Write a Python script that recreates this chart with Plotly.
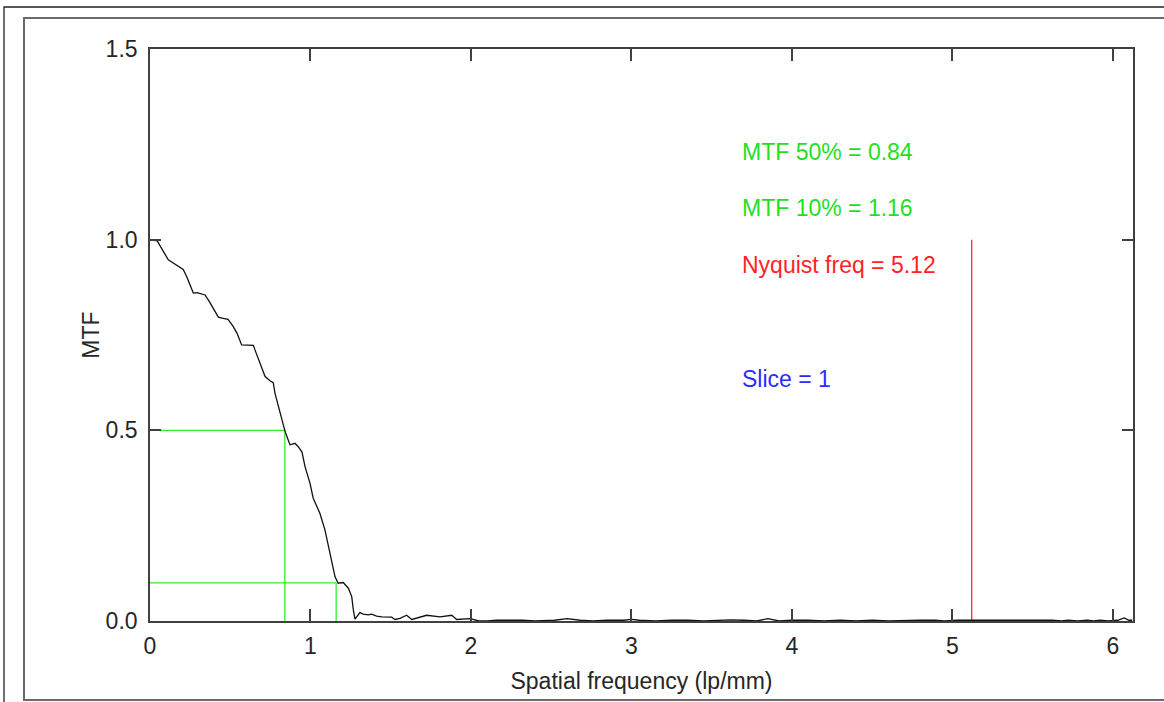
import plotly.graph_objects as go

# MTF curve (spatial frequency in lp/mm)
freq = [0.0, 0.045, 0.114, 0.135, 0.207, 0.229, 0.270, 0.293, 0.343, 0.368,
        0.426, 0.450, 0.486, 0.519, 0.542, 0.571, 0.644, 0.654, 0.685, 0.717,
        0.748, 0.768, 0.779, 0.810, 0.841, 0.872, 0.903, 0.924, 0.947, 0.966,
        0.997, 1.017, 1.059, 1.090, 1.111, 1.132, 1.153, 1.173, 1.204, 1.236,
        1.257, 1.267, 1.277, 1.308, 1.329, 1.360, 1.381, 1.412, 1.444, 1.506,
        1.526, 1.558, 1.599, 1.631, 1.662, 1.724, 1.807, 1.880, 1.911, 1.994]
mtf = [1.000, 0.997, 0.947, 0.941, 0.922, 0.903, 0.860, 0.861, 0.855, 0.839,
       0.797, 0.794, 0.791, 0.772, 0.755, 0.724, 0.723, 0.711, 0.676, 0.641,
       0.630, 0.625, 0.597, 0.545, 0.498, 0.462, 0.466, 0.457, 0.443, 0.405,
       0.361, 0.322, 0.282, 0.239, 0.195, 0.151, 0.116, 0.099, 0.101, 0.086,
       0.064, 0.029, 0.005, 0.022, 0.018, 0.016, 0.018, 0.013, 0.011, 0.010,
       0.004, 0.007, 0.015, 0.004, 0.007, 0.015, 0.011, 0.015, 0.004, 0.006]

# near-zero tail of the curve
freq_tail = [2.05, 2.10, 2.16, 2.24, 2.32, 2.40, 2.52, 2.60, 2.68, 2.76,
             2.85, 2.95, 3.00, 3.05, 3.15, 3.25, 3.35, 3.45, 3.55, 3.62,
             3.70, 3.78, 3.85, 3.92, 4.00, 4.10, 4.20, 4.30, 4.40, 4.50,
             4.60, 4.72, 4.80, 4.89, 4.95, 5.03, 5.10, 5.18, 5.23, 5.35,
             5.46, 5.51, 5.56, 5.62, 5.68, 5.72, 5.78, 5.84, 5.88, 5.92,
             5.97, 6.03, 6.07, 6.10, 6.12]
mtf_tail = [0.000, 0.000, 0.002, 0.002, 0.002, 0.000, 0.002, 0.006, 0.002, 0.000,
            0.002, 0.002, 0.004, 0.002, 0.000, 0.002, 0.002, 0.000, 0.002, 0.003,
            0.002, 0.000, 0.006, 0.000, 0.002, 0.002, 0.000, 0.002, 0.000, 0.002,
            0.000, 0.002, 0.002, 0.002, 0.000, 0.002, 0.002, 0.002, 0.002, 0.002,
            0.002, 0.002, 0.002, 0.002, 0.000, 0.002, 0.000, 0.002, 0.000, 0.002,
            0.000, 0.002, 0.008, 0.002, 0.002]

mtf50 = 0.84
mtf10 = 1.16
nyquist = 5.12
slice_no = 1

x_ticks = [0, 1, 2, 3, 4, 5, 6]
y_ticks = [0.0, 0.5, 1.0, 1.5]

FONT = "Liberation Sans, Arial, Helvetica, sans-serif"
GREEN_LINE = "#2cf02c"
GREEN_TEXT = "#1fe01f"
RED = "#ff2424"
BLUE = "#2b2bff"
AX = "#404040"
TXT = "#262626"

fig = go.Figure()

# green MTF50 / MTF10 guides
fig.add_trace(go.Scatter(x=[0, mtf50, mtf50], y=[0.5, 0.5, 0], mode="lines",
                         line=dict(color=GREEN_LINE, width=1.3), hoverinfo="skip"))
fig.add_trace(go.Scatter(x=[0, mtf10, mtf10], y=[0.1, 0.1, 0], mode="lines",
                         line=dict(color=GREEN_LINE, width=1.3), hoverinfo="skip"))
# Nyquist line
fig.add_trace(go.Scatter(x=[nyquist, nyquist], y=[0, 1.0], mode="lines",
                         line=dict(color=RED, width=1.3), hoverinfo="skip"))
# MTF curve
fig.add_trace(go.Scatter(x=freq + freq_tail, y=mtf + mtf_tail, mode="lines",
                         line=dict(color="#111111", width=1.3)))

ann_font = dict(family=FONT, size=23)
fig.add_annotation(x=3.676, y=1.23, text=f"MTF 50% = {mtf50:.2f}", showarrow=False,
                   xanchor="left", yanchor="middle", font=dict(color=GREEN_TEXT, **ann_font))
fig.add_annotation(x=3.676, y=1.083, text=f"MTF 10% = {mtf10:.2f}", showarrow=False,
                   xanchor="left", yanchor="middle", font=dict(color=GREEN_TEXT, **ann_font))
fig.add_annotation(x=3.676, y=0.934, text=f"Nyquist freq = {nyquist:.2f}", showarrow=False,
                   xanchor="left", yanchor="middle", font=dict(color=RED, **ann_font))
fig.add_annotation(x=3.676, y=0.635, text=f"Slice = {slice_no}", showarrow=False,
                   xanchor="left", yanchor="middle", font=dict(color=BLUE, **ann_font))

# outer frames (paper coords relative to plot area: l=150, r=1133, t=49, b=621)
def px_to_paper_x(px):
    return (px - 150) / 983.0

def px_to_paper_y(py):
    return (621 - py) / 572.0

fig.add_shape(type="rect", xref="paper", yref="paper",
              x0=px_to_paper_x(4), x1=px_to_paper_x(1175),
              y0=px_to_paper_y(715), y1=px_to_paper_y(7),
              line=dict(color="#222222", width=1.3), layer="below")
fig.add_shape(type="rect", xref="paper", yref="paper",
              x0=px_to_paper_x(24), x1=px_to_paper_x(1175),
              y0=px_to_paper_y(700), y1=px_to_paper_y(18),
              line=dict(color="#6a6a6a", width=2), layer="below")

fig.update_layout(
    width=1164, height=702,
    margin=dict(l=150, r=31, t=49, b=81, pad=0),
    paper_bgcolor="white", plot_bgcolor="white",
    showlegend=False,
    font=dict(family=FONT, size=23, color=TXT),
)
fig.update_xaxes(range=[0, 6.125], tickvals=x_ticks, ticks="inside", ticklen=12,
                 tickwidth=1.5, tickcolor=AX, showline=True, linecolor=AX, linewidth=1.6,
                 mirror="allticks", showgrid=False, zeroline=False,
                 ticklabelstandoff=4,
                 tickfont=dict(size=23, color=TXT),
                 title=dict(text="Spatial frequency (lp/mm)", font=dict(size=23, color=TXT),
                            standoff=14))
fig.update_yaxes(range=[0, 1.5], tickvals=y_ticks, tickformat=".1f", ticks="inside",
                 ticklen=11, tickwidth=1.5, tickcolor=AX, showline=True, linecolor=AX,
                 linewidth=1.6, mirror="allticks", showgrid=False, zeroline=False,
                 ticklabelstandoff=6,
                 tickfont=dict(size=23, color=TXT),
                 title=dict(text="MTF", font=dict(size=23, color=TXT), standoff=0))

fig.write_html("out.html", config={"displayModeBar": False},
               post_script="document.body.style.margin='0';")
